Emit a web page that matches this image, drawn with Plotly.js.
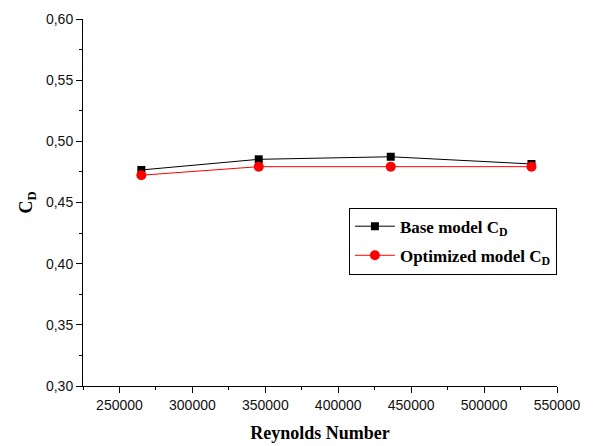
<!DOCTYPE html>
<html>
<head>
<meta charset="utf-8">
<script src="https://cdn.plot.ly/plotly-3.0.1.min.js"></script>
<style>html,body{margin:0;padding:0;background:#fff;}#chart{width:607px;height:446px;}</style>
</head>
<body>
<div id="chart"></div>
<script>
const reynolds = [265000, 345500, 436000, 532500];
const baseCD = [0.4766, 0.4853, 0.4874, 0.4815];
const optCD = [0.4723, 0.4793, 0.4793, 0.4793];
const seriesNames = ["Base model C<sub>D</sub>", "Optimized model C<sub>D</sub>"];

const traces = [
  {x: reynolds, y: baseCD, name: seriesNames[0], type: 'scatter', mode: 'lines+markers',
   line: {color: '#000000', width: 1}, marker: {symbol: 'square', size: 8, color: '#000000'},
   legendgroup: 'a'},
  {x: reynolds, y: optCD, name: seriesNames[1], type: 'scatter', mode: 'lines+markers',
   line: {color: '#ff0000', width: 1}, marker: {symbol: 'circle', size: 10, color: '#ff0000'},
   legendgroup: 'b'}
];

const layout = {
  width: 607, height: 446,
  margin: {l: 83, r: 50, t: 19, b: 60},
  paper_bgcolor: '#ffffff', plot_bgcolor: '#ffffff',
  separators: ',.',
  showlegend: true,
  xaxis: {
    range: [225000, 550000], dtick: 50000, tick0: 0, tickformat: 'd',
    showgrid: false, zeroline: false, showline: true, linecolor: '#000', linewidth: 1,
    ticks: 'outside', ticklen: 6, tickcolor: '#000', tickwidth: 1,
    minor: {ticks: 'outside', ticklen: 3, dtick: 25000, tickcolor: '#000', showgrid: false},
    tickfont: {family: 'Liberation Sans, Arial, sans-serif', size: 14, color: '#111'},
    title: {text: '<b>Reynolds Number</b>', font: {family: 'Liberation Serif, Times New Roman, serif', size: 18, color: '#000'}, standoff: 14}
  },
  yaxis: {
    range: [0.30, 0.60], dtick: 0.05, tickformat: '.2f',
    showgrid: false, zeroline: false, showline: true, linecolor: '#000', linewidth: 1,
    ticks: 'outside', ticklen: 6, tickcolor: '#000', tickwidth: 1,
    minor: {ticks: 'outside', ticklen: 3, dtick: 0.025, tickcolor: '#000', showgrid: false},
    tickfont: {family: 'Liberation Sans, Arial, sans-serif', size: 14, color: '#111'},
    title: {text: '<b>C<sub>D</sub></b>', font: {family: 'Liberation Serif, Times New Roman, serif', size: 18, color: '#000'}, standoff: 8}
  },
  legend: {
    x: 0.561, y: 0.486, xanchor: 'left', yanchor: 'top',
    bordercolor: '#000', borderwidth: 1, bgcolor: '#fff',
    itemwidth: 40, traceorder: 'grouped', tracegroupgap: 4,
    font: {family: 'Liberation Serif, Times New Roman, serif', size: 17, color: '#000', weight: 'bold'}
  }
};

Plotly.newPlot('chart', traces, layout, {displayModeBar: false, staticPlot: true});
</script>
</body>
</html>
